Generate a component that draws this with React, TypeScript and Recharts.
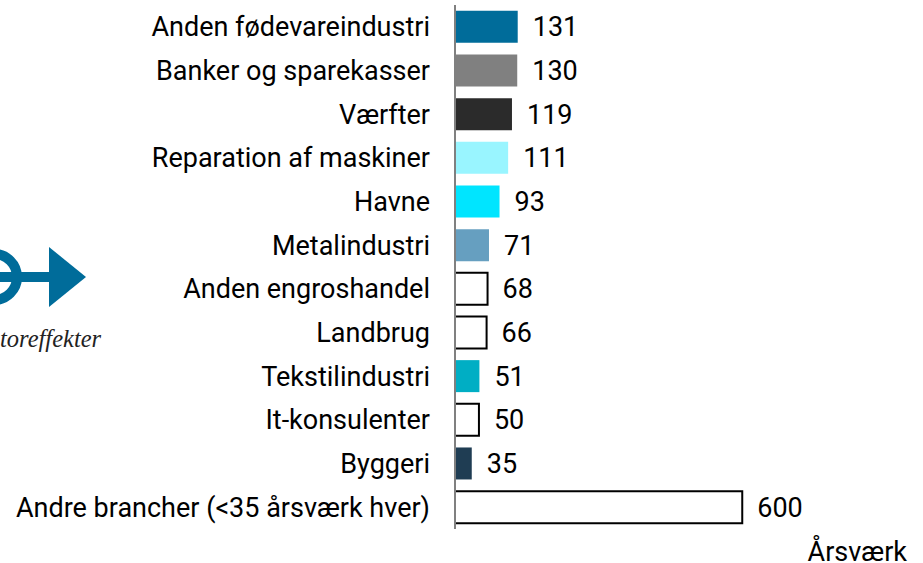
import { BarChart, Bar, XAxis, YAxis, Cell, LabelList } from 'recharts';

const categories = [
  'Anden fødevareindustri',
  'Banker og sparekasser',
  'Værfter',
  'Reparation af maskiner',
  'Havne',
  'Metalindustri',
  'Anden engroshandel',
  'Landbrug',
  'Tekstilindustri',
  'It-konsulenter',
  'Byggeri',
  'Andre brancher (<35 årsværk hver)',
];
const values = [131, 130, 119, 111, 93, 71, 68, 66, 51, 50, 35, 600];
const colors = ['#006c9a', '#808080', '#2b2b2b', '#99f5ff', '#00e5ff', '#669fc0', '#fff', '#fff', '#00aec4', '#fff', '#1f3d53', '#fff'];
const outlined = [false, false, false, false, false, false, true, true, false, true, false, true];

const chartData = categories.map((name, i) => ({ name, value: values[i] }));
const font = 'Roboto, sans-serif';

export default function App() {
  return (
    <div style={{ position: 'absolute', left: 0, top: 0, width: 923, height: 563, overflow: 'hidden', background: '#fff' }}>
      <BarChart
        width={923}
        height={563}
        data={chartData}
        layout="vertical"
        barCategoryGap={5.8}
        margin={{ top: 5, right: 85, bottom: 34, left: 0 }}
      >
        <XAxis type="number" domain={[0, 800]} hide />
        <YAxis
          type="category"
          dataKey="name"
          width={455}
          interval={0}
          tickLine={false}
          tickSize={0}
          tickMargin={25}
          axisLine={{ stroke: '#808080', strokeWidth: 2 }}
          tick={{ fill: '#000', fontSize: 27, fontFamily: font }}
        />
        <Bar dataKey="value" isAnimationActive={false}>
          {chartData.map((d, i) => (
            <Cell key={d.name} fill={colors[i]} stroke={outlined[i] ? '#000' : 'none'} strokeWidth={2} />
          ))}
          <LabelList dataKey="value" position="right" offset={15} fill="#000" fontSize={27} fontFamily={font} />
        </Bar>
      </BarChart>
      <svg width={923} height={563} style={{ position: 'absolute', left: 0, top: 0 }}>
        <circle cx={-6} cy={277} r={23} fill="none" stroke="#006c9a" strokeWidth={10} />
        <rect x={0} y={272} width={50} height={10} fill="#006c9a" />
        <polygon points="49,247 49,307 86,277" fill="#006c9a" />
        <text x={0} y={347} fontSize={24.5} fontStyle="italic" fontFamily="'Liberation Serif', serif" fill="#222">toreffekter</text>
        <text x={907} y={561} textAnchor="end" fontSize={27} fontFamily={font} fill="#000">Årsværk</text>
      </svg>
    </div>
  );
}
